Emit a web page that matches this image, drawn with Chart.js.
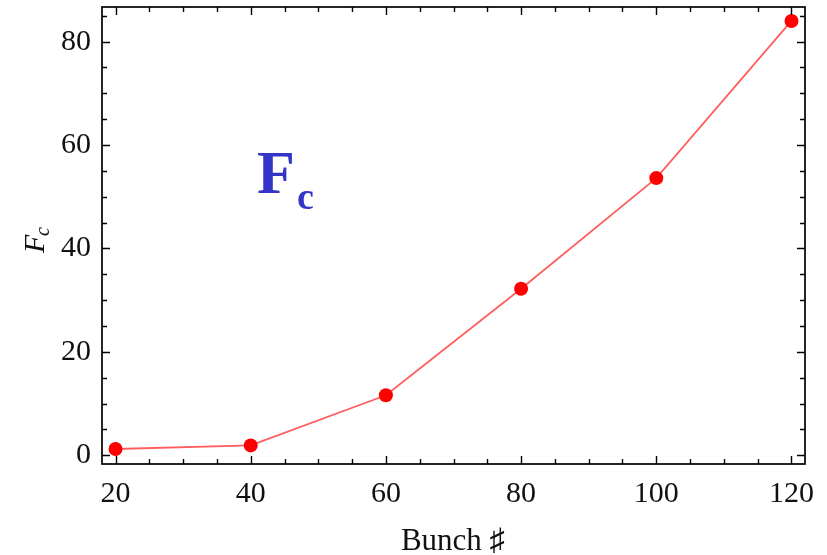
<!DOCTYPE html>
<html>
<head>
<meta charset="utf-8">
<script src="https://cdn.jsdelivr.net/npm/chart.js@4"></script>
<style>
  html, body { margin: 0; padding: 0; background: #fff; }
  #wrap { width: 827px; height: 555px; }
</style>
</head>
<body>
<div id="wrap"><canvas id="mychart" width="827" height="555"></canvas></div>
<script>
// data
const bunches = [20, 40, 60, 80, 100, 120];
const fcValues = [1.2, 1.9, 11.6, 32.2, 53.6, 84.0];
const xTicks = [20, 40, 60, 80, 100, 120];
const yTicks = [0, 20, 40, 60, 80];

const serif = '"Liberation Serif", "DejaVu Serif", serif';

// frame with inward ticks on all four sides, plus the titles
const framePlugin = {
  id: 'frame',
  afterDraw(chart) {
    const c = chart.ctx, a = chart.chartArea;
    const xs = chart.scales.x, ys = chart.scales.y;
    c.save();
    c.strokeStyle = '#000';
    c.lineWidth = 1.7;
    c.strokeRect(a.left, a.top, a.right - a.left, a.bottom - a.top);
    c.lineWidth = 1.4;
    c.beginPath();
    for (let v = 20; v <= 120; v += 5) {
      const p = Math.round(xs.getPixelForValue(v)) + 0.5;
      const len = v % 20 === 0 ? 8 : 5;
      c.moveTo(p, a.bottom); c.lineTo(p, a.bottom - len);
      c.moveTo(p, a.top); c.lineTo(p, a.top + len);
    }
    for (let v = 0; v <= 85; v += 5) {
      const p = Math.round(ys.getPixelForValue(v)) + 0.5;
      const len = v % 20 === 0 ? 8 : 5;
      c.moveTo(a.left, p); c.lineTo(a.left + len, p);
      c.moveTo(a.right, p); c.lineTo(a.right - len, p);
    }
    c.stroke();

    // x title
    c.fillStyle = '#111';
    c.font = '31px ' + serif;
    c.textAlign = 'center';
    c.textBaseline = 'alphabetic';
    c.fillText('Bunch \u266F', 453, 550);

    // y title, rotated, F with subscript c
    c.save();
    c.translate(44, 242);
    c.rotate(-Math.PI / 2);
    c.textAlign = 'left';
    c.font = 'italic 30px ' + serif;
    c.fillText('F', -11, 0);
    c.font = 'italic 20px ' + serif;
    c.fillText('c', 6, 5);
    c.restore();

    // big annotation
    c.fillStyle = '#3434c8';
    c.textAlign = 'left';
    c.font = 'bold 62px ' + serif;
    c.fillText('F', 257, 193);
    c.font = 'bold 38px ' + serif;
    c.fillText('c', 297, 209);
    c.restore();
  }
};

const ctx = document.getElementById('mychart').getContext('2d');
const myChart = new Chart(ctx, {
  type: 'line',
  data: {
    datasets: [{
      label: 'Fc',
      data: bunches.map((b, i) => ({ x: b, y: fcValues[i] })),
      borderColor: 'rgba(255, 40, 40, 0.75)',
      borderWidth: 1.8,
      pointBackgroundColor: '#ff0000',
      pointBorderColor: '#ff0000',
      pointRadius: 7,
      pointBorderWidth: 0,
      tension: 0,
      fill: false
    }]
  },
  options: {
    responsive: false,
    animation: false,
    layout: { padding: { left: 0, top: 7, right: 22, bottom: 0 } },
    plugins: {
      legend: { display: false },
      tooltip: { enabled: false }
    },
    scales: {
      x: {
        type: 'linear',
        min: 18,
        max: 122,
        afterBuildTicks(s) { s.ticks = xTicks.map(v => ({ value: v })); },
        afterFit(s) { s.height = 91; s.paddingLeft = 0; s.paddingRight = 0; },
        grid: { display: false, drawTicks: false },
        border: { display: false },
        ticks: {
          padding: 12,
          color: '#111',
          maxRotation: 0,
          autoSkip: false,
          font: { family: serif, size: 30 }
        }
      },
      y: {
        min: -1.7,
        max: 86.7,
        afterBuildTicks(s) { s.ticks = yTicks.map(v => ({ value: v })); },
        afterFit(s) { s.width = 102; s.paddingTop = 0; s.paddingBottom = 0; },
        grid: { display: false, drawTicks: false },
        border: { display: false },
        ticks: {
          padding: 11,
          color: '#111',
          font: { family: serif, size: 30 }
        }
      }
    }
  },
  plugins: [framePlugin]
});
</script>
</body>
</html>
